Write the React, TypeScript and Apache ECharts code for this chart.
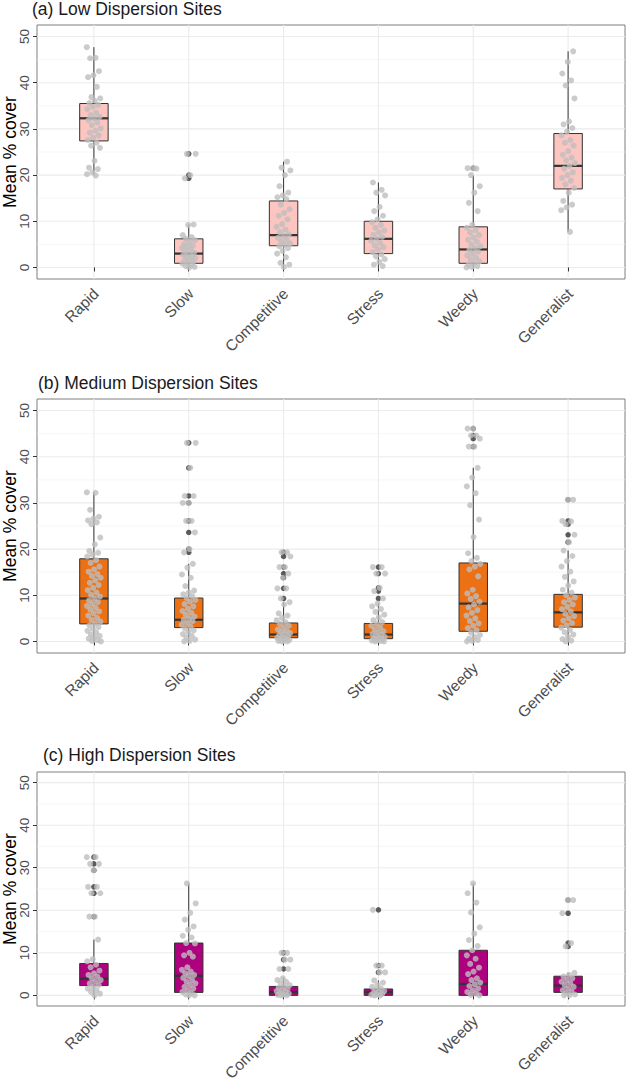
import React, { useEffect, useRef } from "react";
import * as echarts from "echarts";

// Strategy categories shared by all panels
const categories = ["Rapid", "Slow", "Competitive", "Stress", "Weedy", "Generalist"];
const yTicks = [0, 10, 20, 30, 40, 50];
const yMinorTicks = [5, 15, 25, 35, 45];

const panelTitles = [
  "(a) Low Dispersion Sites",
  "(b) Medium Dispersion Sites",
  "(c) High Dispersion Sites",
];
const boxFills = ["#fcc5c0", "#ec7014", "#ae017e"];

// Box statistics per category: [lower whisker, Q1, median, Q3, upper whisker]
const lowBoxes = [
  [19.9, 27.4, 32.3, 35.5, 47.7],
  [0, 0.9, 3.0, 6.2, 9.3],
  [0, 4.7, 7.0, 14.4, 22.9],
  [0, 3.0, 6.2, 10.0, 18.4],
  [0, 0.9, 3.9, 8.8, 19.9],
  [7.7, 17.0, 22.0, 29.0, 46.8],
];
const lowOutliers = [[], [24.6, 20.0, 19.3], [], [], [21.5], []];
const lowPoints = [
  [47.7, 45.4, 45.3, 42.5, 41.6, 41.2, 39.1, 36.9, 36.6, 36.1, 35.6, 35.2, 34.8, 34.3, 33.5, 33.0, 32.6, 32.3, 31.9, 31.4, 30.8, 30.1, 29.6, 29.2, 28.6, 28.1, 27.6, 27.0, 26.4, 25.9, 23.1, 21.6, 21.3, 20.6, 20.2, 19.9],
  [24.6, 24.6, 20.0, 19.3, 9.3, 9.2, 7.0, 6.6, 6.2, 5.9, 5.5, 5.0, 4.7, 4.5, 4.2, 3.8, 3.5, 3.2, 3.0, 2.7, 2.4, 2.2, 2.0, 1.8, 1.5, 1.2, 1.0, 0.8, 0.5, 0.3, 0.1, 0.0],
  [22.9, 21.6, 21.0, 20.0, 17.6, 16.2, 15.6, 15.2, 14.8, 13.6, 12.6, 11.8, 11.2, 10.4, 9.4, 8.8, 8.2, 7.6, 7.2, 6.8, 6.4, 6.0, 5.6, 5.2, 4.9, 4.6, 4.2, 3.6, 3.0, 2.2, 1.0, 0.6, 0.1],
  [18.4, 16.8, 16.2, 15.6, 13.1, 12.2, 11.2, 10.4, 9.8, 9.2, 8.6, 8.0, 7.6, 7.1, 6.6, 6.2, 5.8, 5.3, 4.8, 4.4, 3.9, 3.3, 2.8, 2.4, 1.8, 1.2, 0.6, 0.3],
  [21.5, 21.5, 21.4, 20.0, 17.6, 16.2, 14.0, 12.2, 9.2, 8.6, 8.1, 7.6, 7.0, 6.5, 6.0, 5.6, 5.0, 4.6, 4.2, 3.8, 3.4, 3.0, 2.6, 2.1, 1.7, 1.3, 0.9, 0.6, 0.3, 0.1, 0.0],
  [46.8, 44.5, 42.0, 40.5, 39.4, 36.6, 31.6, 31.0, 30.2, 29.4, 28.6, 27.6, 27.0, 26.4, 25.2, 24.4, 23.8, 23.2, 22.6, 22.0, 21.4, 20.6, 20.0, 19.4, 18.8, 18.0, 17.2, 16.2, 14.4, 13.6, 13.0, 12.4, 7.7],
];

const mediumBoxes = [
  [0, 3.8, 9.3, 17.9, 32.3],
  [0, 3.0, 4.7, 9.4, 16.8],
  [0, 0.8, 1.5, 4.0, 8.5],
  [0, 0.6, 1.5, 3.9, 8.2],
  [0, 2.2, 8.2, 17.0, 37.6],
  [0, 3.1, 6.3, 10.2, 19.7],
];
const mediumOutliers = [
  [],
  [43.0, 37.6, 31.5, 30.0, 26.1, 23.6, 20.0, 19.3],
  [19.3, 18.4, 16.1, 14.7, 13.8, 11.5, 9.3],
  [16.1, 14.7, 11.6, 10.9, 9.3],
  [46.1, 44.6, 43.9, 42.2],
  [30.7, 26.1, 25.4, 23.1, 21.5],
];
const mediumPoints = [
  [32.3, 32.2, 28.5, 27.0, 26.6, 26.2, 25.8, 25.4, 22.5, 21.0, 19.6, 19.2, 18.8, 18.4, 17.6, 17.0, 16.2, 15.6, 15.1, 14.6, 14.2, 13.8, 13.2, 12.7, 12.2, 11.6, 11.1, 10.6, 10.1, 9.7, 9.3, 8.9, 8.5, 8.1, 7.7, 7.3, 6.9, 6.5, 6.1, 5.6, 5.1, 4.7, 4.3, 3.9, 3.5, 3.1, 2.7, 2.3, 1.9, 1.5, 1.2, 0.9, 0.6, 0.3, 0.1, 0.0],
  [43.0, 43.0, 37.6, 31.5, 31.5, 30.0, 30.0, 26.1, 26.1, 23.6, 20.0, 19.3, 16.8, 16.0, 14.5, 13.8, 12.0, 11.0, 10.6, 10.2, 9.8, 9.4, 9.0, 8.6, 8.1, 7.6, 7.1, 6.6, 6.2, 5.8, 5.4, 5.0, 4.7, 4.4, 4.0, 3.6, 3.2, 2.8, 2.4, 2.0, 1.6, 1.2, 0.8, 0.4, 0.1, 0.0],
  [19.3, 19.3, 18.4, 16.1, 16.1, 14.7, 13.8, 11.5, 11.5, 9.3, 8.5, 8.0, 6.1, 5.6, 5.1, 4.6, 4.2, 3.8, 3.4, 3.0, 2.6, 2.3, 2.0, 1.8, 1.6, 1.4, 1.2, 1.0, 0.8, 0.6, 0.5, 0.3, 0.2, 0.1, 0.0, 0.0],
  [16.1, 16.1, 14.7, 14.7, 11.6, 10.9, 9.3, 8.2, 7.6, 7.0, 6.4, 5.8, 5.2, 4.6, 4.2, 3.8, 3.4, 3.0, 2.6, 2.2, 1.9, 1.6, 1.4, 1.2, 1.0, 0.8, 0.6, 0.4, 0.3, 0.2, 0.1, 0.0, 0.0],
  [46.1, 46.1, 44.6, 44.6, 43.9, 42.2, 42.2, 37.6, 35.5, 33.6, 32.1, 29.5, 26.4, 22.6, 19.1, 18.1, 17.4, 16.8, 16.2, 15.6, 14.1, 11.2, 10.4, 9.8, 9.2, 8.6, 8.0, 7.4, 6.8, 6.2, 5.6, 5.0, 4.4, 3.9, 3.4, 2.9, 2.4, 1.9, 1.4, 1.0, 0.6, 0.3, 0.1, 0.0],
  [30.7, 30.7, 26.1, 26.0, 25.4, 23.1, 21.5, 19.7, 18.5, 17.4, 16.2, 15.1, 14.0, 13.0, 12.1, 11.2, 10.6, 10.0, 9.5, 9.0, 8.5, 8.0, 7.5, 7.0, 6.5, 6.0, 5.5, 5.0, 4.5, 4.0, 3.5, 3.0, 2.5, 2.0, 1.5, 1.0, 0.5, 0.2, 0.0],
];

const highBoxes = [
  [0, 2.3, 3.9, 7.5, 13.1],
  [0, 0.7, 4.6, 12.3, 26.3],
  [0, 0, 0.8, 2.1, 4.1],
  [0, 0, 0.8, 1.5, 3.5],
  [0, 0, 2.7, 10.6, 26.3],
  [0, 0.7, 2.3, 4.5, 5.3],
];
const highOutliers = [
  [32.5, 30.9, 29.4, 25.5, 24.0, 18.5],
  [],
  [10.0, 8.4, 6.2],
  [20.1, 7.0, 5.4],
  [],
  [22.4, 19.3, 12.3, 11.5],
];
const highPoints = [
  [32.5, 32.5, 30.9, 30.9, 29.4, 25.5, 25.5, 24.0, 24.0, 18.5, 18.5, 13.1, 8.5, 8.0, 7.2, 6.6, 5.8, 5.2, 4.8, 4.4, 4.0, 3.6, 3.2, 2.8, 2.4, 2.0, 1.6, 1.2, 0.8, 0.4, 0.0],
  [26.3, 21.6, 19.4, 17.8, 16.2, 15.4, 14.0, 13.6, 12.3, 12.2, 10.0, 9.4, 9.1, 6.6, 6.0, 5.6, 5.2, 4.8, 4.5, 4.1, 3.6, 3.2, 2.8, 2.4, 2.0, 1.6, 1.2, 0.8, 0.5, 0.2, 0.0, 0.0],
  [10.0, 10.0, 8.4, 8.4, 6.2, 6.2, 4.0, 3.6, 3.2, 2.8, 2.4, 2.1, 1.8, 1.5, 1.2, 1.0, 0.8, 0.6, 0.4, 0.2, 0.1, 0.0, 0.0],
  [20.1, 7.0, 7.0, 5.4, 5.4, 3.5, 3.0, 2.5, 2.0, 1.6, 1.3, 1.0, 0.8, 0.6, 0.4, 0.2, 0.1, 0.0, 0.0],
  [26.3, 24.0, 21.8, 19.5, 16.0, 14.5, 13.0, 11.6, 10.6, 9.4, 8.6, 7.4, 6.5, 5.6, 5.0, 4.0, 3.6, 3.0, 2.6, 2.2, 1.6, 1.2, 0.8, 0.4, 0.1, 0.0],
  [22.4, 22.4, 19.3, 12.3, 11.5, 5.3, 4.8, 4.4, 4.0, 3.6, 3.2, 2.8, 2.4, 2.0, 1.6, 1.2, 0.8, 0.5, 0.2, 0.0, 0.0],
];

const panels = [
  { boxes: lowBoxes, outliers: lowOutliers, points: lowPoints },
  { boxes: mediumBoxes, outliers: mediumOutliers, points: mediumPoints },
  { boxes: highBoxes, outliers: highOutliers, points: highPoints },
];

// Panel placement (pixels)
const gridLayout = [
  { top: 25, height: 254 },
  { top: 399, height: 254 },
  { top: 772, height: 234 },
];
const titleLayout = [
  { left: 32, top: 0 },
  { left: 38, top: 374 },
  { left: 43, top: 746 },
];

const FONT = "'Liberation Sans', Arial, Helvetica, sans-serif";
const X_MIN = 0.4;
const X_MAX = 6.6;
const JITTER = 0.075;

// Deterministic horizontal spread for the jittered points
function jitterOffset(catIndex: number, j: number): number {
  const frac = (j * 0.6180339887 + catIndex * 0.3713) % 1;
  return (frac - 0.5) * 2 * JITTER;
}

function buildOption() {
  const grids: any[] = [];
  const xAxes: any[] = [];
  const yAxes: any[] = [];
  const series: any[] = [];
  const titles: any[] = [];
  const catPositions = categories.map((_, i) => i + 1);

  panels.forEach((panel, p) => {
    grids.push({
      left: 37,
      width: 588,
      top: gridLayout[p].top,
      height: gridLayout[p].height,
      containLabel: false,
      outerBoundsMode: "none",
      show: true,
      borderColor: "#7f7f7f",
      borderWidth: 1,
      backgroundColor: "#ffffff",
    });
    titles.push({
      text: panelTitles[p],
      left: titleLayout[p].left,
      top: titleLayout[p].top,
      padding: 0,
      textStyle: {
        fontFamily: FONT,
        fontSize: 17.5,
        lineHeight: 18,
        fontWeight: "normal",
        color: "#1a1a1a",
      },
    });
    xAxes.push({
      gridIndex: p,
      type: "value",
      min: X_MIN,
      max: X_MAX,
      axisLine: { show: false },
      splitLine: { show: false },
      axisTick: {
        show: true,
        customValues: catPositions,
        length: 4,
        lineStyle: { color: "#333333", width: 1 },
      },
      axisLabel: {
        customValues: catPositions,
        formatter: (v: number) => categories[Math.round(v) - 1] ?? "",
        rotate: 45,
        align: "right",
        verticalAlign: "top",
        margin: 3,
        padding: [0, 5, 0, 0],
        hideOverlap: false,
        fontFamily: FONT,
        fontSize: 15.5,
        lineHeight: 15.5,
        color: "#4d4d4d",
      },
    });
    yAxes.push({
      gridIndex: p,
      type: "value",
      min: -2.5,
      max: 52.5,
      name: "Mean % cover",
      nameLocation: "middle",
      nameGap: 18,
      nameMoveOverlap: false,
      nameTextStyle: { fontFamily: FONT, fontSize: 17.5, lineHeight: 18, color: "#000000" },
      axisLine: { show: false },
      splitLine: { show: false },
      axisTick: {
        show: true,
        customValues: yTicks,
        length: 4,
        lineStyle: { color: "#333333", width: 1 },
      },
      axisLabel: {
        customValues: yTicks,
        rotate: 90,
        margin: 6,
        fontFamily: FONT,
        fontSize: 13.5,
        color: "#4d4d4d",
      },
    });

    // background grid lines (minor, major, vertical)
    const hLines = [
      ...yMinorTicks.map((v) => [v, 0]),
      ...yTicks.map((v) => [v, 1]),
    ];
    series.push({
      type: "custom",
      xAxisIndex: p,
      yAxisIndex: p,
      silent: true,
      z: 0,
      data: hLines,
      encode: { y: 0 },
      renderItem: (params: any, api: any) => {
        const cs = params.coordSys;
        const y = api.coord([1, api.value(0)])[1];
        const major = api.value(1) === 1;
        return {
          type: "line",
          shape: { x1: cs.x, y1: y, x2: cs.x + cs.width, y2: y },
          style: { stroke: major ? "#ebebeb" : "#f4f4f4", lineWidth: major ? 1.1 : 0.7 },
        };
      },
    });
    series.push({
      type: "custom",
      xAxisIndex: p,
      yAxisIndex: p,
      silent: true,
      z: 0,
      data: catPositions.map((x) => [x]),
      encode: { x: 0 },
      renderItem: (params: any, api: any) => {
        const cs = params.coordSys;
        const x = api.coord([api.value(0), 0])[0];
        return {
          type: "line",
          shape: { x1: x, y1: cs.y, x2: x, y2: cs.y + cs.height },
          style: { stroke: "#ebebeb", lineWidth: 1.1 },
        };
      },
    });

    // boxes with whiskers
    series.push({
      type: "custom",
      xAxisIndex: p,
      yAxisIndex: p,
      silent: true,
      z: 2,
      data: panel.boxes.map((b, i) => [i + 1, ...b]),
      encode: { x: 0, y: [1, 2, 3, 4, 5] },
      renderItem: (_params: any, api: any) => {
        const x = api.value(0);
        const cx = api.coord([x, 0])[0];
        const w = api.size([0.3, 0])[0];
        const yLo = api.coord([x, api.value(1)])[1];
        const yQ1 = api.coord([x, api.value(2)])[1];
        const yMed = api.coord([x, api.value(3)])[1];
        const yQ3 = api.coord([x, api.value(4)])[1];
        const yHi = api.coord([x, api.value(5)])[1];
        const stroke = "#333333";
        return {
          type: "group",
          children: [
            {
              type: "line",
              shape: { x1: cx, y1: yHi, x2: cx, y2: yQ3 },
              style: { stroke, lineWidth: 1 },
            },
            {
              type: "line",
              shape: { x1: cx, y1: yQ1, x2: cx, y2: yLo },
              style: { stroke, lineWidth: 1 },
            },
            {
              type: "rect",
              shape: { x: cx - w / 2, y: yQ3, width: w, height: yQ1 - yQ3 },
              style: { fill: boxFills[p], stroke, lineWidth: 1 },
            },
            {
              type: "line",
              shape: { x1: cx - w / 2, y1: yMed, x2: cx + w / 2, y2: yMed },
              style: { stroke, lineWidth: 2.2 },
            },
          ],
        };
      },
    });

    // outliers from the boxplot
    const outlierData: number[][] = [];
    panel.outliers.forEach((vals, i) => vals.forEach((v) => outlierData.push([i + 1, v])));
    series.push({
      type: "scatter",
      xAxisIndex: p,
      yAxisIndex: p,
      silent: true,
      z: 3,
      symbol: "circle",
      symbolSize: 5.5,
      itemStyle: { color: "#333333" },
      data: outlierData,
    });

    // jittered observations
    const pointData: number[][] = [];
    panel.points.forEach((vals, i) =>
      vals.forEach((v, j) => pointData.push([i + 1 + jitterOffset(i, j), v]))
    );
    series.push({
      type: "scatter",
      xAxisIndex: p,
      yAxisIndex: p,
      silent: true,
      z: 4,
      symbol: "circle",
      symbolSize: 6,
      itemStyle: { color: "#bebebe", opacity: 0.8 },
      data: pointData,
    });
  });

  return {
    animation: false,
    backgroundColor: "#ffffff",
    textStyle: { fontFamily: FONT },
    title: titles,
    grid: grids,
    xAxis: xAxes,
    yAxis: yAxes,
    series,
  };
}

export default function App() {
  const ref = useRef<HTMLDivElement>(null);

  useEffect(() => {
    if (!ref.current) return;
    const chart = echarts.init(ref.current, undefined, { renderer: "svg" });
    chart.setOption(buildOption());
    return () => chart.dispose();
  }, []);

  return (
    <div
      ref={ref}
      style={{ position: "absolute", left: 0, top: 0, width: 627, height: 1086 }}
    />
  );
}
